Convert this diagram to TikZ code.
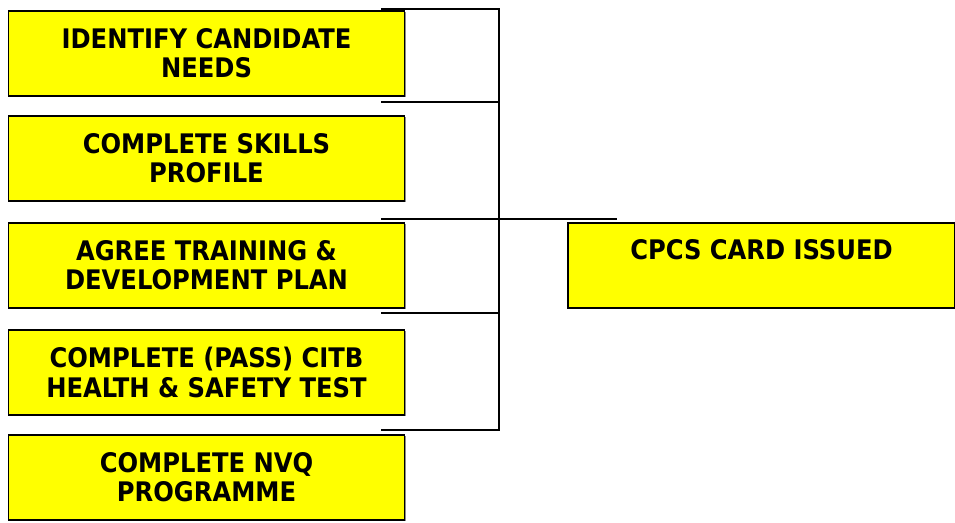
\documentclass[tikz,border=0pt]{standalone}
\usepackage{fontspec}
\setmainfont{DejaVu Sans Condensed}
\usetikzlibrary{shadows}
\definecolor{boxyellow}{RGB}{255,255,0}
\begin{document}
\begin{tikzpicture}[x=0.75pt,y=-0.75pt,
  stage/.style={draw=black,line width=1.3pt,fill=boxyellow,
    minimum width=297pt,minimum height=63.75pt,inner sep=0pt,
    align=center,font=\fontsize{20.2}{21.9}\selectfont\bfseries,
    drop shadow={shadow xshift=0.8pt,shadow yshift=-0.8pt,fill=black!45,opacity=1}},
  link/.style={line width=1.3pt,line cap=rect}]
\useasboundingbox (0,0) rectangle (955,522);
% activity boxes on the left
\node[stage] (needs)  at (206.5,53.5)  {IDENTIFY CANDIDATE\\NEEDS};
\node[stage] (skills) at (206.5,158.5) {COMPLETE SKILLS\\PROFILE};
\node[stage] (plan)   at (206.5,265.5) {AGREE TRAINING \&\\DEVELOPMENT PLAN};
\node[stage] (test)   at (206.5,372.5) {COMPLETE (PASS) CITB\\HEALTH \& SAFETY TEST};
\node[stage] (nvq)    at (206.5,477.5) {COMPLETE NVQ\\PROGRAMME};
% outcome box: single line set high, as in a two-line box
\node[stage,minimum width=290.25pt] (card) at (761.5,265.5)
  {\rule{0pt}{19.5pt}CPCS CARD ISSUED\\\strut};
% bracket joining the stages
\coordinate (top) at (499,9);
\coordinate (bot) at (499,430);
\coordinate (mid) at (499,219);
\coordinate (t0) at (382,9);
\coordinate (t1) at (382,102);
\coordinate (t2) at (382,219);
\coordinate (t3) at (382,313);
\coordinate (t4) at (382,430);
\coordinate (out) at (616,219);
\draw[link] (top) -- (bot);
\foreach \c in {t0,t1,t3,t4} \draw[link] (\c) -- (\c -| top);
\draw[link] (t2) -- (out);
\end{tikzpicture}
\end{document}
